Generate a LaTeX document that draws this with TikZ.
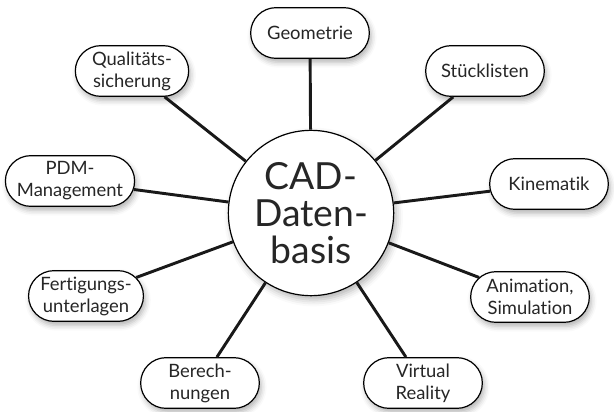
\documentclass[tikz,border=0pt]{standalone}
\usepackage{fontspec}
\setmainfont{Lato}[Ligatures=NoCommon]
\usetikzlibrary{shapes.misc,shadows.blur}

\tikzset{
  topic/.style={rounded rectangle, draw, line width=0.9pt, fill=white,
    align=center, minimum width=93pt, minimum height=38pt, inner sep=2pt,
    text=black!85, font=\fontsize{13.8}{16.5}\selectfont,
    blur shadow={shadow xshift=1.5pt, shadow yshift=-3pt,
      shadow blur radius=4pt, shadow opacity=30}},
  hub/.style={circle, draw, line width=0.9pt, fill=white, align=center,
    minimum size=124pt, inner sep=0pt, text=black!85,
    font=\fontsize{28}{27.5}\selectfont,
    blur shadow={shadow xshift=2pt, shadow yshift=-3pt,
      shadow blur radius=5pt, shadow opacity=30}},
  spoke/.style={line width=2.2pt, black!90}
}

\begin{document}
\begin{tikzpicture}[x=0.75pt, y=-0.75pt]
  \useasboundingbox (0,0) rectangle (614,411);
  \node[hub] (cad) at (311,213) {CAD-\\Daten-\\basis};
  \node[topic] (geo) at (310,33) {Geometrie};
  \node[topic] (stueck) at (485,71) {Stücklisten};
  \node[topic] (kine) at (549,184) {Kinematik};
  \node[topic] (anim) at (530,297) {Animation,\\Simulation};
  \node[topic] (vr) at (423,383) {Virtual\\Reality};
  \node[topic] (ber) at (200,383) {Berech-\\nungen};
  \node[topic, minimum width=86pt] (fert) at (86,296) {Fertigungs-\\unterlagen};
  \node[topic] (pdm) at (70,181) {PDM-\\Management};
  \node[topic, minimum width=89pt] (qual) at (132,71) {Qualitäts-\\sicherung};
  \foreach \t in {geo,stueck,kine,anim,vr,ber,fert,pdm,qual}
    \draw[spoke] (cad) -- (\t);
\end{tikzpicture}
\end{document}
